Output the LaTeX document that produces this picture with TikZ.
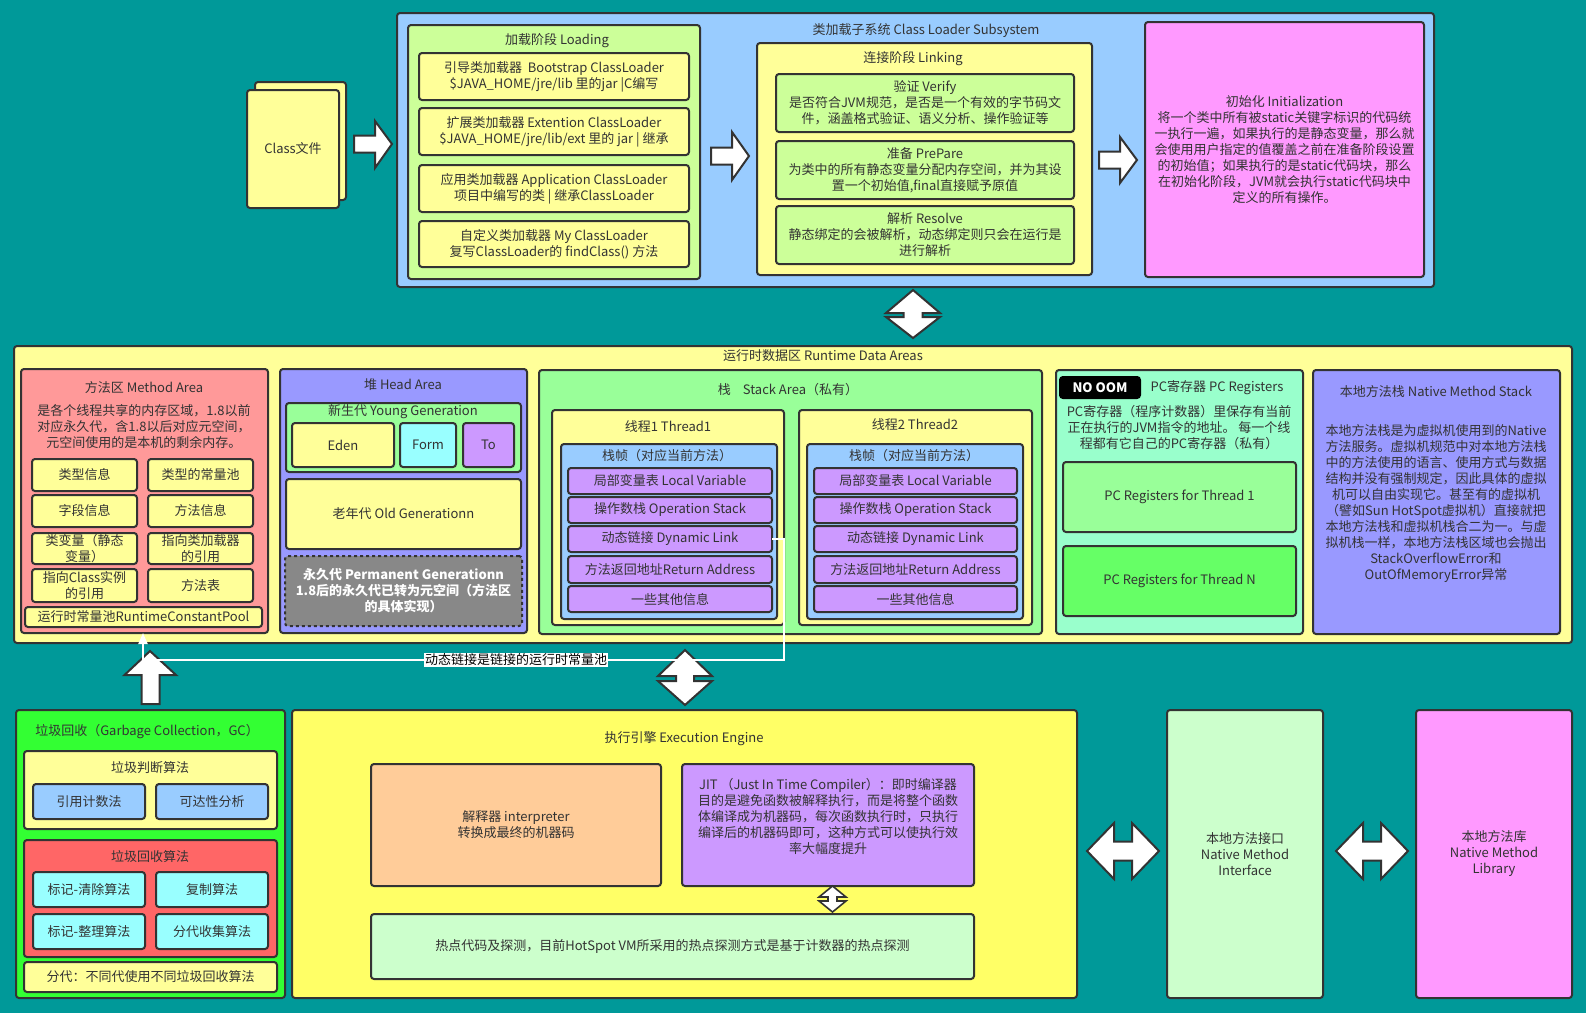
\documentclass[tikz,border=0pt]{standalone}
\usepackage{fontspec}
\setmainfont{Noto Sans CJK SC}
\usetikzlibrary{arrows.meta}
\definecolor{bg}{HTML}{009999}
\definecolor{bd}{HTML}{333333}
\definecolor{tc}{HTML}{333333}
\definecolor{cBlue}{HTML}{99CCFF}
\definecolor{cLime}{HTML}{CCFF99}
\definecolor{cYel}{HTML}{FFFF99}
\definecolor{cPink}{HTML}{FF99FF}
\definecolor{cSalmon}{HTML}{FF9999}
\definecolor{cViolet}{HTML}{9999FF}
\definecolor{cGreen}{HTML}{99FF99}
\definecolor{cCyan}{HTML}{99FFFF}
\definecolor{cPurple}{HTML}{CC99FF}
\definecolor{cGray}{HTML}{888888}
\definecolor{cMint}{HTML}{99FFCC}
\definecolor{cGreenN}{HTML}{66FF66}
\definecolor{cGC}{HTML}{33FF33}
\definecolor{cRed}{HTML}{FF6666}
\definecolor{cYelB}{HTML}{FFFF66}
\definecolor{cOrange}{HTML}{FFCC99}
\definecolor{cPale}{HTML}{CCFFCC}
\newcommand\fs{\fontsize{13}{16}\selectfont}
% box with text: name, x1, y1, x2, y2, box options, text options, text
\newcommand\bx[8]{%
  \node[box,#6,minimum width={#4-#2},minimum height={#5-#3}] (#1) at ({(#2+#4)/2},{(#3+#5)/2}) {};
  \node[txt,#7] (#1t) at (#1.center) {#8};}
% box without text
\newcommand\bxe[6]{%
  \node[box,#6,minimum width={#4-#2},minimum height={#5-#3}] (#1) at ({(#2+#4)/2},{(#3+#5)/2}) {};}
\begin{document}
\begin{tikzpicture}[x=1pt,y=-1pt,
  box/.style={draw=bd,line width=2pt,rounded corners=3pt,inner sep=0pt,outer sep=0pt},
  txt/.style={inner sep=0pt,align=center,text=tc,font=\fs},
  blk/.style={draw=bd,fill=white,line width=2pt,line join=miter},
  wline/.style={draw=white,line width=2pt},
  lbl/.style={fill=white,text=black,inner sep=1pt,font=\fs},
]
\fill[bg] (0,0) rectangle (1586,1013);
\useasboundingbox (0,0) rectangle (1586,1013);

% ---------- Class file ----------
\bxe{cfb}{255}{82}{346}{200}{fill=cYel}
\bx{cf}{247}{90}{339}{208}{fill=cYel}{}{Class文件}
\draw[blk] (354,135.5) -- (375,135.5) -- (375,121) -- (392,144) -- (375,168) -- (375,152.5) -- (354,152.5) -- cycle;

% ---------- Class Loader Subsystem ----------
\bxe{cls}{397}{13}{1434}{287}{fill=cBlue}
\node[txt] (clsT) at (926,31) {类加载子系统 Class Loader Subsystem};

\bxe{load}{408}{25}{700}{279}{fill=cLime}
\node[txt] (loadT) at (557,41) {加载阶段 Loading};
\bx{l1}{419}{53}{689}{100}{fill=cYel}{}{引导类加载器\ \ Bootstrap ClassLoader\\\$JAVA\_HOME/jre/lib 里的jar |C编写}
\bx{l2}{419}{108}{689}{155}{fill=cYel}{}{扩展类加载器 Extention ClassLoader\\\$JAVA\_HOME/jre/lib/ext 里的 jar | 继承}
\bx{l3}{419}{165}{689}{212}{fill=cYel}{}{应用类加载器 Application ClassLoader\\项目中编写的类 | 继承ClassLoader}
\bx{l4}{419}{221}{689}{267}{fill=cYel}{}{自定义类加载器 My ClassLoader\\复写ClassLoader的 findClass() 方法}

\draw[blk] (711,147.5) -- (732,147.5) -- (732,132) -- (749,156) -- (732,180) -- (732,164.5) -- (711,164.5) -- cycle;

\bxe{link}{757}{43}{1092}{275}{fill=cYel}
\node[txt] (linkT) at (913,59) {连接阶段 Linking};
\bx{k1}{776}{74}{1074}{132}{fill=cLime}{}{验证 Verify\\是否符合JVM规范，是否是一个有效的字节码文\\件，涵盖格式验证、语义分析、操作验证等}
\bx{k2}{776}{141}{1074}{199}{fill=cLime}{}{准备 PrePare\\为类中的所有静态变量分配内存空间，并为其设\\置一个初始值,final直接赋予原值}
\bx{k3}{776}{206}{1074}{264}{fill=cLime}{}{解析 Resolve\\静态绑定的会被解析，动态绑定则只会在运行是\\进行解析}

\draw[blk] (1099,151.5) -- (1120,151.5) -- (1120,137) -- (1137,160) -- (1120,183) -- (1120,168.5) -- (1099,168.5) -- cycle;

\bx{init}{1145}{22}{1424}{277}{fill=cPink}{}{初始化 Initialization\\将一个类中所有被static关键字标识的代码统\\一执行一遍，如果执行的是静态变量，那么就\\会使用用户指定的值覆盖之前在准备阶段设置\\的初始值；如果执行的是static代码块，那么\\在初始化阶段，JVM就会执行static代码块中\\定义的所有操作。}

% double arrow subsystem <-> runtime
\draw[blk] (913,290) -- (940,313) -- (922.5,313) -- (922.5,317) -- (940,317) -- (913,338) -- (886,317) -- (903.5,317) -- (903.5,313) -- (886,313) -- cycle;

% ---------- Runtime Data Areas ----------
\bxe{rt}{14}{346}{1572}{643}{fill=cYel}
\node[txt] (rtT) at (823,356) {运行时数据区 Runtime Data Areas};

% Method area
\bxe{ma}{21}{369}{268}{633}{fill=cSalmon}
\node[txt] (maT) at (144,388) {方法区 Method Area};
\node[txt] (maD) at (144,426.5) {是各个线程共享的内存区域，1.8以前\\对应永久代，含1.8以后对应元空间，\\元空间使用的是本机的剩余内存。};
\bx{m1}{32}{459}{137}{491}{fill=cYel}{}{类型信息}
\bx{m2}{148}{459}{253}{491}{fill=cYel}{}{类型的常量池}
\bx{m3}{32}{495}{137}{527}{fill=cYel}{}{字段信息}
\bx{m4}{148}{495}{253}{527}{fill=cYel}{}{方法信息}
\bx{m5}{32}{533}{137}{564}{fill=cYel}{font=\fontsize{13}{15.5}\selectfont}{类变量（静态\\变量）}
\bx{m6}{148}{533}{253}{564}{fill=cYel}{font=\fontsize{13}{15.5}\selectfont}{指向类加载器\\的引用}
\bx{m7}{32}{569}{137}{602}{fill=cYel}{font=\fontsize{13}{15.5}\selectfont}{指向Class实例\\的引用}
\bx{m8}{148}{569}{253}{602}{fill=cYel}{}{方法表}
\bx{pool}{25}{607}{262}{627}{fill=cYel}{}{运行时常量池RuntimeConstantPool}

% Heap
\bxe{heap}{280}{369}{527}{633}{fill=cViolet}
\node[txt] (heapT) at (403,385) {堆 Head Area};
\bxe{young}{286}{403}{521}{472}{fill=cGreen}
\node[txt] (youngT) at (403,412) {新生代 Young Generation};
\bx{eden}{292}{423}{394}{467}{fill=cYel}{}{Eden}
\bx{form}{400}{423}{456}{467}{fill=cCyan}{}{Form}
\bx{to}{463}{423}{514}{467}{fill=cPurple}{}{To}
\bx{old}{286}{479}{521}{549}{fill=cYel}{}{老年代 Old Generationn}
\bx{perm}{285}{556}{522}{626}{fill=cGray,dashed}{text=white,font=\fs\bfseries}{永久代 Permanent Generationn\\1.8后的永久代已转为元空间（方法区\\的具体实现）}

% Stack
\bxe{stk}{539}{370}{1042}{634}{fill=cGreen}
\node[txt] (stkT) at (788,390) {栈\hspace{12pt}Stack Area（私有）};
\bxe{th1}{552}{410}{784}{625}{fill=cYel}
\node[txt] (th1T) at (668,427) {线程1 Thread1};
\bxe{fr1}{561}{444}{777}{619}{fill=cBlue}
\node[txt] (fr1T) at (667,456) {栈帧（对应当前方法）};
\bx{sa}{568}{468}{772}{494}{fill=cPurple}{}{局部变量表 Local Variable}
\bx{sb}{568}{497}{772}{523}{fill=cPurple}{}{操作数栈 Operation Stack}
\bx{sc}{568}{526}{772}{552}{fill=cPurple}{}{动态链接 Dynamic Link}
\bx{sd}{568}{556}{772}{583}{fill=cPurple}{}{方法返回地址Return Address}
\bx{se}{568}{586}{772}{612}{fill=cPurple}{}{一些其他信息}
\bxe{th2}{799}{410}{1032}{625}{fill=cYel}
\node[txt] (th2T) at (915,425) {线程2 Thread2};
\bxe{fr2}{807}{444}{1023}{619}{fill=cBlue}
\node[txt] (fr2T) at (914,456) {栈帧（对应当前方法）};
\bx{ta}{814}{468}{1017}{494}{fill=cPurple}{}{局部变量表 Local Variable}
\bx{tb}{814}{497}{1017}{523}{fill=cPurple}{}{操作数栈 Operation Stack}
\bx{tc}{814}{526}{1017}{552}{fill=cPurple}{}{动态链接 Dynamic Link}
\bx{td}{814}{556}{1017}{583}{fill=cPurple}{}{方法返回地址Return Address}
\bx{te}{814}{586}{1017}{612}{fill=cPurple}{}{一些其他信息}

% PC registers
\bxe{pc}{1056}{370}{1303}{634}{fill=cMint}
\bx{oom}{1060}{377}{1140}{398}{fill=black,draw=black}{text=white,font=\fs\bfseries}{NO OOM}
\node[txt] (pcT) at (1217,388) {PC寄存器 PC Registers};
\node[txt] (pcD) at (1179,427.5) {PC寄存器（程序计数器）里保存有当前\\正在执行的JVM指令的地址。 每一个线\\程都有它自己的PC寄存器（私有）};
\bx{pc1}{1063}{462}{1296}{532}{fill=cGreen}{}{PC Registers for Thread 1}
\bx{pcn}{1063}{546}{1296}{616}{fill=cGreenN}{}{PC Registers for Thread N}

% Native method stack
\bxe{nms}{1313}{370}{1560}{634}{fill=cViolet}
\node[txt] (nmsT) at (1436,392) {本地方法栈 Native Method Stack};
\node[txt] (nmsD) at (1436,503.5) {本地方法栈是为虚拟机使用到的Native\\方法服务。虚拟机规范中对本地方法栈\\中的方法使用的语言、使用方式与数据\\结构并没有强制规定，因此具体的虚拟\\机可以自由实现它。甚至有的虚拟机\\（譬如Sun HotSpot虚拟机）直接就把\\本地方法栈和虚拟机栈合二为一。与虚\\拟机栈一样，本地方法栈区域也会抛出\\StackOverflowError和\\OutOfMemoryError异常};

% ---------- GC up arrow ----------
\draw[blk] (150,651) -- (176,675) -- (159.5,675) -- (159.5,704) -- (141.5,704) -- (141.5,675) -- (124.5,675) -- cycle;

% double arrow runtime <-> execution engine
\draw[blk] (685,650) -- (712,676) -- (694,676) -- (694,681) -- (712,681) -- (685,705) -- (658,681) -- (676,681) -- (676,676) -- (658,676) -- cycle;

% dynamic link connector
\coordinate (cbend) at (784,660);
\coordinate (cleft) at (143,660);
\draw[wline,-{Triangle[width=9pt,length=11pt]}] (sc.east) -| (cbend) -- node[lbl,pos=0.418] (dlT) {动态链接是链接的运行时常量池} (cleft) -- (cleft |- ma.south);

% ---------- GC ----------
\bxe{gc}{16}{710}{285}{998}{fill=cGC}
\node[txt] (gcT) at (147,732) {垃圾回收（Garbage Collection，GC）};
\bxe{gj}{24}{751}{277}{829}{fill=cYel}
\node[txt] (gjT) at (150,768) {垃圾判断算法};
\bx{j1}{33}{784}{145}{819}{fill=cBlue}{}{引用计数法}
\bx{j2}{156}{784}{268}{819}{fill=cBlue}{}{可达性分析}
\bxe{gr}{24}{840}{277}{957}{fill=cRed}
\node[txt] (grT) at (150,857) {垃圾回收算法};
\bx{r1}{33}{872}{145}{907}{fill=cCyan}{}{标记-清除算法}
\bx{r2}{156}{872}{268}{907}{fill=cCyan}{}{复制算法}
\bx{r3}{33}{914}{145}{949}{fill=cCyan}{}{标记-整理算法}
\bx{r4}{156}{914}{268}{949}{fill=cCyan}{}{分代收集算法}
\bx{gb}{24}{962}{277}{992}{fill=cYel}{}{分代：不同代使用不同垃圾回收算法}

% ---------- Execution Engine ----------
\bxe{ee}{292}{710}{1077}{998}{fill=cYelB}
\node[txt] (eeT) at (684,739) {执行引擎 Execution Engine};
\bx{interp}{371}{764}{661}{886}{fill=cOrange}{}{解释器 interpreter\\转换成最终的机器码}
\bxe{jit}{682}{764}{974}{886}{fill=cPurple}
\node[txt] (jitT) at (828,816) {JIT （Just In Time Compiler）：即时编译器\\目的是避免函数被解释执行，而是将整个函数\\体编译成为机器码，每次函数执行时，只执行\\编译后的机器码即可，这种方式可以使执行效\\率大幅度提升};
\draw[blk,line width=1.6pt] (832.5,886) -- (846,897) -- (837,897) -- (837,901) -- (846,901) -- (832.5,912) -- (819,901) -- (828,901) -- (828,897) -- (819,897) -- cycle;
\bx{hot}{371}{914}{974}{979}{fill=cPale}{}{热点代码及探测，目前HotSpot VM所采用的热点探测方式是基于计数器的热点探测}

% ---------- Native interface / library ----------
\draw[blk] (1087,851) -- (1114,823) -- (1114,841.5) -- (1132,841.5) -- (1132,823) -- (1159,851) -- (1132,879) -- (1132,860.5) -- (1114,860.5) -- (1114,879) -- cycle;
\bx{nmi}{1167}{710}{1323}{998}{fill=cPale}{}{本地方法接口\\Native Method\\Interface}
\draw[blk] (1336,851) -- (1363,823) -- (1363,841.5) -- (1381,841.5) -- (1381,823) -- (1408,851) -- (1381,879) -- (1381,860.5) -- (1363,860.5) -- (1363,879) -- cycle;
\bx{nml}{1416}{710}{1572}{998}{fill=cPink}{}{本地方法库\\Native Method\\Library}
\end{tikzpicture}
\end{document}
